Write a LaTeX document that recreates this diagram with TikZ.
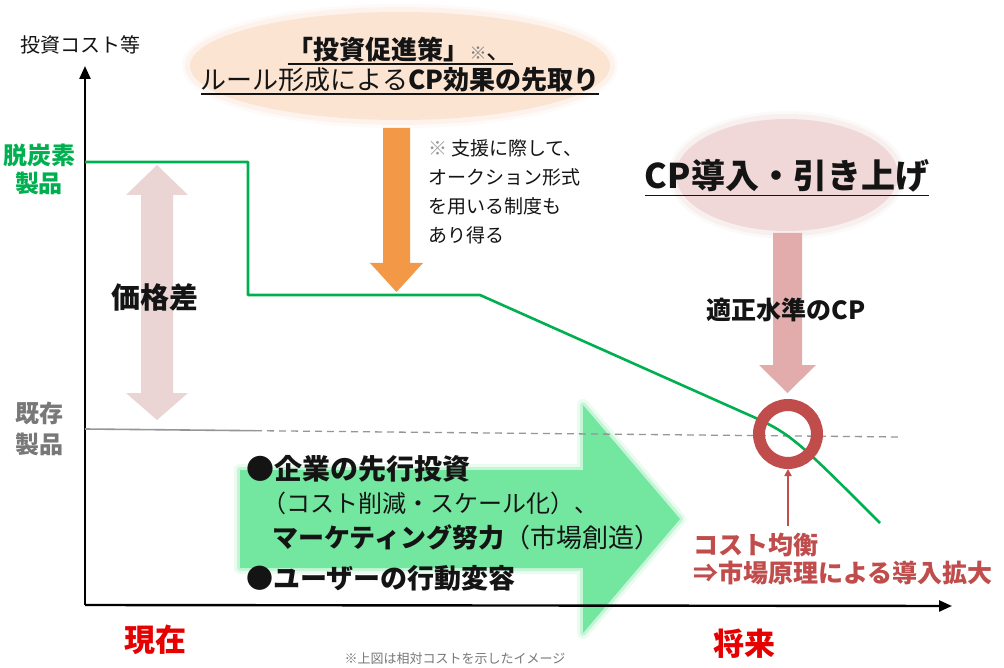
\documentclass[tikz,border=0pt]{standalone}
\usepackage{fontspec}
\setmainfont{Noto Sans CJK JP}
\usetikzlibrary{arrows.meta}
\definecolor{dgreen}{RGB}{0,176,80}
\definecolor{lgreen}{RGB}{115,230,160}
\definecolor{peach}{RGB}{251,228,210}
\definecolor{pinkE}{RGB}{241,216,216}
\definecolor{pinkA}{RGB}{235,212,212}
\definecolor{pinkB}{RGB}{226,172,172}
\definecolor{orangeA}{RGB}{243,152,70}
\definecolor{redR}{RGB}{192,76,76}
\definecolor{redT}{RGB}{230,0,0}
\definecolor{grayT}{RGB}{120,120,120}
\definecolor{grayL}{RGB}{150,150,150}
\definecolor{txt}{RGB}{20,20,20}
\newcommand\fs[2]{\fontsize{#1}{#2}\selectfont}
\newcommand\myul[1]{\setbox0\hbox{#1}\rlap{\rule[-0.22em]{\wd0}{1.6pt}}\box0}
\tikzset{
  lbl/.style={inner sep=0pt, text=txt},
  axis/.style={line width=2.4pt, -{Triangle[width=11pt,length=13pt]}},
  curve/.style={draw=dgreen, line width=2.6pt, line join=round},
  softA/.style={line width=12pt, opacity=0.15, line join=round},
  softB/.style={line width=6pt, opacity=0.3, line join=round},
}
\begin{document}
\begin{tikzpicture}[x=1pt,y=-1pt]
\useasboundingbox (0,0) rectangle (1004,668);
\fill[white] (0,0) rectangle (1004,668);

% top ellipse
\draw[peach, softA] (400,66) ellipse [x radius=212, y radius=56];
\draw[peach, softB] (400,66) ellipse [x radius=212, y radius=56];
\fill[peach] (400,66) ellipse [x radius=210, y radius=54];
% pink ellipse
\draw[pinkE, softA] (787,175) ellipse [x radius=113, y radius=58];
\draw[pinkE, softB] (787,175) ellipse [x radius=113, y radius=58];
\fill[pinkE] (787,175) ellipse [x radius=111, y radius=56];

% green big arrow
\draw[lgreen, softA] (240,470) -- (583,470) -- (583,405) -- (680,519) -- (583,633) -- (583,568) -- (240,568) -- cycle;
\draw[lgreen, softB] (240,470) -- (583,470) -- (583,405) -- (680,519) -- (583,633) -- (583,568) -- (240,568) -- cycle;
\fill[lgreen] (240,470) -- (583,470) -- (583,405) -- (680,519) -- (583,633) -- (583,568) -- (240,568) -- cycle;

% pink double arrow
\fill[pinkA] (157,165) -- (188,195) -- (173,195) -- (173,393) -- (188,393) -- (157,420) -- (126,393) -- (141,393) -- (141,195) -- (126,195) -- cycle;

% orange arrow
\fill[orangeA] (383,128) -- (410,128) -- (410,263) -- (423,263) -- (396.5,292) -- (370,263) -- (383,263) -- cycle;

% pink arrow to circle
\fill[pinkB] (773,233) -- (802,233) -- (802,365) -- (816,365) -- (787.5,393) -- (759,365) -- (773,365) -- cycle;

% axes
\coordinate (O) at (85,605);
\coordinate (ytop) at (85,66);
\coordinate (xend) at (952,606);
\draw[axis] (O) -- (ytop);
\draw[axis] (O) -- (xend);

% existing-product level
\coordinate (g0) at (85,429);
\coordinate (g1) at (255,430.7);
\coordinate (g2) at (900,437);
\draw[grayL, line width=1.6pt] (g0) -- (g1);
\draw[grayL, line width=1.3pt, dash pattern=on 7pt off 5pt] (g1) -- (g2);

% green cost curve
\coordinate (c0) at (85,162);
\coordinate (c1) at (248,162);
\coordinate (c2) at (248,295);
\coordinate (c3) at (480,295);
\coordinate (c4) at (740,411);
\coordinate (c5) at (880,523);
\draw[curve] (c0) -- (c1) -- (c2) -- (c3) -- (c4) .. controls (790,433) .. (c5);

% circle ring
\node[circle, draw=redR, line width=12pt, minimum size=58pt, inner sep=0pt] (ring) at (788,434) {};
\coordinate (rs) at (788,526);
\draw[redR, line width=2pt, -{Triangle[width=7pt,length=7pt]}] (rs) -- (ring.south);

% labels
\node[lbl, font=\fs{20}{24}] (ylab) at (80,45) {投資コスト等};
\node[lbl, text=dgreen, align=center, font=\fs{24}{28}\bfseries] (dcl) at (39,169) {脱炭素\\製品};
\node[lbl, text=grayT, align=center, font=\fs{24}{31}\bfseries] (kzl) at (40,429) {既存\\製品};
\node[lbl, font=\fs{29}{32}\bfseries] (kkd) at (155,297) {価格差};

\node[lbl, align=center, font=\fs{26}{30}] (top) at (400,66) {\myul{\bfseries 「投資促進策」{\fs{17}{20}\mdseries\color{grayT}※}\mdseries 、}\\
  \myul{ルール形成による\bfseries CP効果の先取り}};

\node[lbl, anchor=north west, align=left, font=\fs{19}{29}] (note) at (428,139) {{\color{grayL}※} 支援に際して、\\オークション形式\\を用いる制度も\\あり得る};

\node[lbl, font=\fs{34}{38}\bfseries] (cpt) at (787,178) {\myul{CP導入・引き上げ}};
\node[lbl, font=\fs{25}{28}\bfseries] (tek) at (786,310) {適正水準のCP};

\node[lbl, text=redR, anchor=west, font=\fs{25}{28}\bfseries] (cb1) at (693,545) {コスト均衡};
\node[lbl, text=redR, anchor=west, font=\fs{25}{28}\bfseries] (cb2) at (693,573) {⇒市場原理による導入拡大};

\node[lbl, anchor=west, font=\fs{28}{30}\bfseries] (b1) at (246,469) {●企業の先行投資};
\node[lbl, anchor=west, font=\fs{24}{28}] (b2) at (262,503) {（コスト削減・スケール化）、};
\node[lbl, anchor=west, font=\fs{26}{28}] (b3) at (272,537) {\bfseries マーケティング努力\mdseries （市場創造）};
\node[lbl, anchor=west, font=\fs{27}{30}\bfseries] (b4) at (246,578) {●ユーザーの行動変容};

\node[lbl, text=redT, font=\fs{31}{34}\bfseries] (now) at (155,640) {現在};
\node[lbl, text=redT, font=\fs{31}{34}\bfseries] (fut) at (744,644) {将来};
\node[lbl, text=grayT, font=\fs{13}{15}] (cap) at (455,659) {※上図は相対コストを示したイメージ};
\end{tikzpicture}
\end{document}
